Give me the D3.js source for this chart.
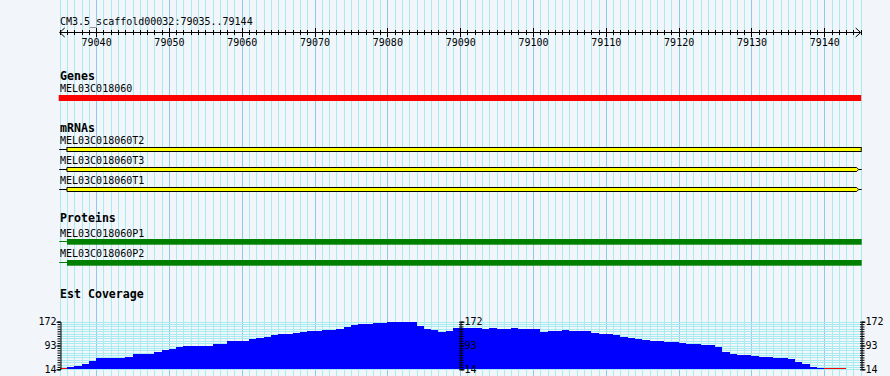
<!DOCTYPE html>
<html>
<head>
<meta charset="utf-8">
<script src="https://cdn.jsdelivr.net/npm/d3@7"></script>
<style>
  html, body { margin: 0; padding: 0; background: #f2f5fa; }
  svg { display: block; }
  text { font-family: "DejaVu Sans Mono", monospace; font-size: 10px; fill: #000; }
  .track-title { font-weight: bold; font-size: 11.6px; }
</style>
</head>
<body>
<svg id="chart" width="890" height="376"></svg>
<script>
// Region shown
const regionName = 'CM3.5_scaffold00032';
const regionStart = 79035;
const regionEnd = 79144;
const rulerLabels = [79040, 79050, 79060, 79070, 79080, 79090, 79100, 79110, 79120, 79130, 79140];

// Features
const trackTitles = ['Genes', 'mRNAs', 'Proteins', 'Est Coverage'];
const geneNames = ['MEL03C018060'];
const geneStarts = [79035];
const geneEnds = [79145];

const mrnaNames = ['MEL03C018060T2', 'MEL03C018060T3', 'MEL03C018060T1'];
const mrnaStarts = [79036, 79036, 79036];
const mrnaEnds = [79145, 79145, 79145];
const mrnaArrows = [false, true, true];

const proteinNames = ['MEL03C018060P1', 'MEL03C018060P2'];
const proteinStarts = [79036, 79036];
const proteinEnds = [79145, 79145];

// Est coverage, one value per base from 79035 (null = no data, < 14 = below scale)
const coverage = [
  10, 22, 26, 32, 42, 52, 52, 52, 52, 56,
  65, 65, 65, 71, 77, 81, 89, 92, 92, 92,
  92, 98, 98, 108, 108, 108, 115, 118, 121, 128,
  131, 131, 134, 138, 141, 141, 144, 144, 148, 155,
  161, 165, 165, 168, 168, 171, 172, 172, 171, 158,
  148, 145, 138, 141, 151, 151, 151, 151, 149, 152,
  149, 149, 152, 149, 149, 149, 139, 142, 142, 145,
  142, 142, 142, 136, 132, 132, 129, 122, 119, 116,
  112, 109, 108, 105, 105, 101, 98, 98, 95, 95,
  88, 71, 65, 62, 62, 58, 55, 55, 52, 52,
  48, 38, 32, 22, 18, 10, 10, 10, null, null
];
const coverageMin = 14;
const coverageMax = 172;
const coverageLabels = [14, 93, 172];

const svg = d3.select('#chart');
const W = 890, H = 376;

const x = d3.scaleLinear().domain([regionStart, regionEnd + 1]).range([59.7, 860.7]);
const px = (v) => Math.round(x(v)) + 0.5;

const y = d3.scaleLinear().domain([coverageMin, coverageMax]).range([369.3, 321.7]);
const minorCov = d3.range(21).map((i) => coverageMin + i * (coverageMax - coverageMin) / 20);

// background grid
const bases = d3.range(regionStart, regionEnd + 2);
svg.append('g')
  .selectAll('line')
  .data(bases)
  .join('line')
  .attr('x1', px).attr('x2', px)
  .attr('y1', 0).attr('y2', H)
  .attr('stroke', (d) => (d % 10 === 0 ? '#8ccaec' : '#a8ecf0'))
  .attr('stroke-width', 1);

svg.append('g')
  .selectAll('line')
  .data(minorCov)
  .join('line')
  .attr('x1', x(regionStart)).attr('x2', x(regionEnd + 1))
  .attr('y1', (d) => Math.round(y(d)) + 0.5)
  .attr('y2', (d) => Math.round(y(d)) + 0.5)
  .attr('stroke', '#a8ecf0');

// ruler
const ruler = svg.append('g');
ruler.append('text')
  .attr('x', 60).attr('y', 25)
  .text(`${regionName}:${regionStart}..${regionEnd}`);
const rulerY = 32.5;
ruler.append('line')
  .attr('x1', x(regionStart)).attr('x2', x(regionEnd + 1))
  .attr('y1', rulerY).attr('y2', rulerY)
  .attr('stroke', '#000');
ruler.selectAll('line.tick')
  .data(bases)
  .join('line')
  .attr('class', 'tick')
  .attr('x1', px).attr('x2', px)
  .attr('y1', (d) => (d % 10 === 0 ? rulerY - 4.5 : rulerY - 2.5))
  .attr('y2', (d) => (d % 10 === 0 ? rulerY + 4.5 : rulerY + 2.5))
  .attr('stroke', '#000');
const x0 = x(regionStart), x1 = x(regionEnd + 1);
ruler.append('path')
  .attr('d', `M${x0 + 5},${rulerY - 4.5}L${x0},${rulerY}L${x0 + 5},${rulerY + 4.5}`)
  .attr('fill', 'none').attr('stroke', '#000');
ruler.append('path')
  .attr('d', `M${x1 - 5},${rulerY - 4.5}L${x1},${rulerY}L${x1 - 5},${rulerY + 4.5}`)
  .attr('fill', 'none').attr('stroke', '#000');
ruler.selectAll('text.lab')
  .data(rulerLabels)
  .join('text')
  .attr('class', 'lab')
  .attr('x', (d) => x(d) + 0.5)
  .attr('y', 46)
  .attr('text-anchor', 'middle')
  .text((d) => d);

// track titles
const titleY = [80, 132.3, 222.3, 298.3];
svg.append('g')
  .selectAll('text')
  .data(trackTitles)
  .join('text')
  .attr('class', 'track-title')
  .attr('x', 60)
  .attr('y', (d, i) => titleY[i])
  .text((d) => d);

function label(g, text, baseline) {
  g.append('text').attr('x', 60).attr('y', baseline).text(text);
}

// genes
const genes = svg.append('g');
geneNames.forEach((name, i) => {
  label(genes, name, 91.7);
  genes.append('rect')
    .attr('x', x(geneStarts[i]) - 1)
    .attr('width', x(geneEnds[i]) - x(geneStarts[i]) + 1.5)
    .attr('y', 95).attr('height', 6)
    .attr('fill', '#ff0000');
});

// mRNAs
const mrna = svg.append('g');
mrnaNames.forEach((name, i) => {
  const top = 147.5 + i * 20;
  const mid = top + 2;
  label(mrna, name, 144 + i * 20);
  mrna.append('line')
    .attr('x1', x(regionStart) - 0.5).attr('x2', x(mrnaStarts[i]))
    .attr('y1', mid).attr('y2', mid)
    .attr('stroke', '#000');
  const xs = x(mrnaStarts[i]);
  const xe = x(mrnaEnds[i]) + 0.5;
  if (mrnaArrows[i]) {
    const body = xe - 4.5;
    mrna.append('path')
      .attr('d', `M${xs},${top}H${body}L${body + 2},${mid}L${body},${top + 4}H${xs}Z`)
      .attr('fill', '#ffff00').attr('stroke', '#000');
    mrna.append('line')
      .attr('x1', body + 2).attr('x2', xe + 0.5)
      .attr('y1', mid).attr('y2', mid)
      .attr('stroke', '#000');
  } else {
    mrna.append('rect')
      .attr('x', xs).attr('y', top)
      .attr('width', xe - xs).attr('height', 4)
      .attr('fill', '#ffff00').attr('stroke', '#000');
  }
});

// proteins
const prot = svg.append('g');
proteinNames.forEach((name, i) => {
  const top = 239 + i * 21;
  label(prot, name, 236.7 + i * 20.6);
  prot.append('line')
    .attr('x1', x(regionStart) - 0.5).attr('x2', x(proteinStarts[i]))
    .attr('y1', top + 2.5).attr('y2', top + 2.5)
    .attr('stroke', '#008000');
  prot.append('rect')
    .attr('x', x(proteinStarts[i]))
    .attr('width', x(proteinEnds[i]) - x(proteinStarts[i]) + 1)
    .attr('y', top).attr('height', 5.7)
    .attr('fill', '#008000');
});

// coverage bars (crisp so neighbouring bins join without seams)
const cov = svg.append('g').attr('shape-rendering', 'crispEdges');
const covData = coverage.map((v, i) => ({ pos: regionStart + i, v })).filter((d) => d.v !== null);
cov.selectAll('rect')
  .data(covData)
  .join('rect')
  .attr('x', (d) => Math.round(x(d.pos)))
  .attr('width', (d) => Math.round(x(d.pos + 1)) - Math.round(x(d.pos)))
  .attr('y', (d) => (d.v < coverageMin ? Math.round(y(coverageMin)) - 1 : Math.round(y(Math.min(d.v, coverageMax)))))
  .attr('height', (d) => (d.v < coverageMin ? 1 : Math.round(y(coverageMin)) - Math.round(y(Math.min(d.v, coverageMax)))))
  .attr('fill', (d) => (d.v < coverageMin ? '#ff0000' : '#0000ff'));

// coverage axes
const axisFont = (g) => g.selectAll('text').style('font-family', '"DejaVu Sans Mono", monospace').style('font-size', '10px').attr('fill', '#000');
function covAxis(xPos, side) {
  const g = svg.append('g').attr('transform', `translate(${xPos},0)`);
  const mk = side === 'left' ? d3.axisLeft : d3.axisRight;
  g.call(mk(y).tickValues(minorCov).tickSize(3).tickFormat(''));
  if (side !== 'left') {
    g.append('g').call(d3.axisLeft(y).tickValues(minorCov).tickSize(1.5).tickFormat(''))
      .call((s) => s.select('.domain').remove());
  }
  g.append('g')
    .call(mk(y).tickValues(coverageLabels).tickSize(4).tickPadding(0).tickFormat(d3.format('d')))
    .call((s) => s.select('.domain').remove())
    .call(axisFont);
  g.selectAll('.domain').attr('stroke', '#000');
  g.selectAll('line').attr('stroke', '#000');
  return g;
}
covAxis(60.5, 'left');
covAxis(460.5, 'right');
covAxis(861.5, 'right');
</script>
</body>
</html>
